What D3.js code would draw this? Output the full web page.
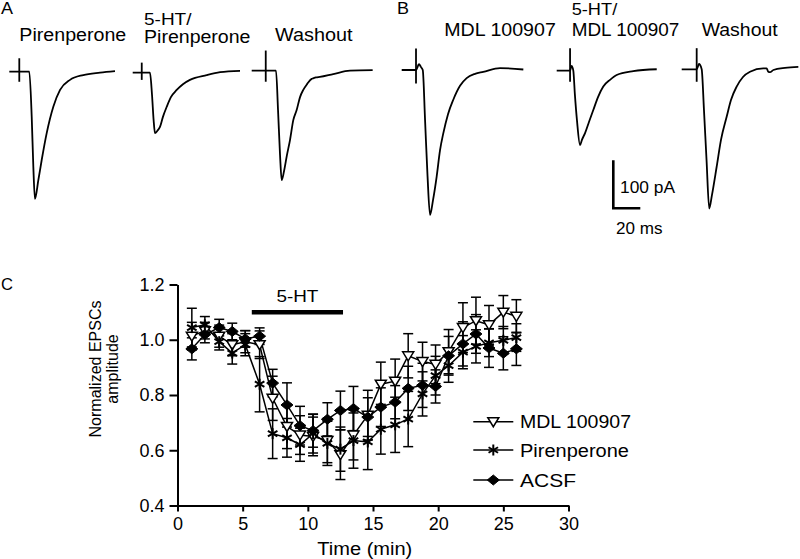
<!DOCTYPE html>
<html><head><meta charset="utf-8">
<script src="https://cdn.jsdelivr.net/npm/d3@7"></script>
<style>
body{margin:0;background:#fff}
svg{display:block}
text{font-family:"Liberation Sans",Arial,Helvetica,sans-serif;fill:#000}
</style>
</head><body>
<svg id="chart" width="800" height="559"></svg>
<script>
// ---------------- DATA (panel C) ----------------
const times = [1.1, 2.1, 3.2, 4.2, 5.2, 6.3, 7.3, 8.4, 9.4, 10.4, 11.5, 12.5, 13.5, 14.6, 15.6, 16.7, 17.7, 18.8, 19.8, 20.8, 21.9, 22.9, 23.9, 25.0, 26.0];
const mdlValues  = [1.013, 1.033, 1.013, 0.982, 0.993, 0.982, 0.788, 0.686, 0.655, 0.650, 0.635, 0.584, 0.655, 0.727, 0.839, 0.850, 0.942, 0.921, 0.911, 0.957, 1.044, 1.069, 1.054, 1.100, 1.085];
const mdlErr     = [0.05, 0.03, 0.04, 0.04, 0.04, 0.05, 0.08, 0.08, 0.07, 0.07, 0.08, 0.09, 0.09, 0.09, 0.08, 0.08, 0.08, 0.07, 0.07, 0.08, 0.09, 0.085, 0.07, 0.06, 0.06];
const pirValues  = [1.044, 1.054, 0.993, 0.952, 0.982, 0.839, 0.660, 0.645, 0.620, 0.660, 0.625, 0.604, 0.635, 0.630, 0.676, 0.692, 0.713, 0.804, 0.870, 0.906, 0.955, 0.976, 0.989, 0.998, 1.008];
const pirErr     = [0.07, 0.03, 0.03, 0.04, 0.04, 0.10, 0.09, 0.07, 0.06, 0.07, 0.08, 0.08, 0.10, 0.10, 0.09, 0.10, 0.10, 0.08, 0.07, 0.06, 0.06, 0.06, 0.05, 0.05, 0.05];
const acsfValues = [0.967, 1.019, 1.044, 1.030, 1.003, 1.013, 0.843, 0.764, 0.689, 0.671, 0.712, 0.744, 0.751, 0.720, 0.756, 0.774, 0.824, 0.835, 0.831, 0.942, 0.985, 1.021, 0.970, 0.951, 0.967];
const acsfErr    = [0.04, 0.03, 0.03, 0.03, 0.03, 0.03, 0.05, 0.08, 0.07, 0.06, 0.06, 0.07, 0.08, 0.07, 0.07, 0.06, 0.08, 0.08, 0.06, 0.07, 0.08, 0.07, 0.07, 0.06, 0.06];
const seriesNames = ["MDL 100907", "Pirenperone", "ACSF"];
const xTickValues = [0, 5, 10, 15, 20, 25, 30];
const yTickValues = [0.4, 0.6, 0.8, 1.0, 1.2];
const drugPeriod = [5.7, 12.7];
const drugLevel = 1.1;
const drugLabel = "5-HT";

// ---------------- DATA (panels A, B: EPSC traces, [ms, pA]) ----------------
const traceA1 = [[0,0],[14.8,0],[16.6,-94],[17.8,-198],[19.0,-265],[21.5,-226],[24.0,-184],[27.7,-128],[32.6,-73],[37.6,-38],[45.0,-17],[54.8,-7],[67.2,-2],[78.3,1]];
const traceA2 = [[0,0],[12.8,0],[14.3,-46],[15.5,-99],[16.5,-126],[18.3,-121],[20.2,-113],[22.4,-92],[25.2,-71],[28.3,-51],[32.6,-36],[37.2,-24],[42.4,-15],[54.8,-5],[64.7,1],[79.5,4]];
const traceA3 = [[0,0],[18.0,0],[19.5,-82],[21.0,-176],[22.2,-228],[23.9,-210],[26.1,-176],[28.4,-144],[30.8,-103],[33.3,-82],[35.8,-55],[38.2,-40],[41.0,-28],[44.4,-17],[45.4,-16],[47.6,-14],[50.5,-13],[60.4,-7],[72.8,0],[89.6,1]];
const traceB1 = [[0,0],[10.6,0],[12.8,12],[14.3,6],[15.6,0],[17.3,-104],[19.1,-219],[21.0,-302],[23.2,-271],[25.9,-222],[28.4,-167],[30.8,-132],[34.3,-92],[38.2,-62],[43.2,-33],[48.1,-17],[54.3,-8],[60.4,-4],[72.8,4],[90.1,1]];
const traceB2 = [[0,0],[9.9,0],[11.0,10],[12.3,0],[13.5,-51],[15.0,-103],[17.3,-155],[18.7,-144],[21.0,-130],[23.9,-107],[27.1,-82],[30.6,-55],[34.5,-33],[39.5,-19],[44.4,-9],[56.7,-1],[74.1,3]];
const traceB3 = [[0,0],[11.1,0],[12.8,11],[14.8,0],[16.5,-85],[18.4,-189],[20.4,-290],[22.4,-262],[25.9,-203],[29.1,-147],[33.3,-99],[36.5,-64],[40.7,-36],[45.4,-16],[50.6,-5],[60.4,2],[62.9,2],[64.1,-5],[65.4,-6],[67.9,-1.5],[76.5,3],[86.4,5]];
// stimulus artifacts: [ms, top pA, bottom pA]
const artifactA1 = [7.4, 28, -21];
const artifactA2 = [6.7, 21, -15];
const artifactA3 = [10.4, 42, -23];
const artifactB1 = [10.6, 45, -28];
const artifactB2 = [9.9, 47, -23];
const artifactB3 = [11.1, 44, -26];
const scaleBarCurrent = 100; // pA
const scaleBarTime = 20;     // ms

// ---------------- DRAW ----------------
const svg = d3.select("#chart");

// ---- trace panels ----
const tx = d3.scaleLinear().domain([0, 20]).range([0, 27]);
const ty = d3.scaleLinear().domain([0, 100]).range([0, -48]);
const traceLayout = [
  {data: traceA1, art: artifactA1, x0: 9.3,   base: 71.7},
  {data: traceA2, art: artifactA2, x0: 132.7, base: 72.7},
  {data: traceA3, art: artifactA3, x0: 251.7, base: 70.7},
  {data: traceB1, art: artifactB1, x0: 401.7, base: 70.0},
  {data: traceB2, art: artifactB2, x0: 556.7, base: 70.7},
  {data: traceB3, art: artifactB3, x0: 681.7, base: 69.3}
];
const traceLine = d3.line().x(d => tx(d[0])).y(d => ty(d[1])).curve(d3.curveMonotoneX);
traceLayout.forEach(tr => {
  const g = svg.append("g").attr("transform", `translate(${tr.x0},${tr.base})`);
  g.append("path").attr("d", traceLine(tr.data))
    .attr("fill", "none").attr("stroke", "#000").attr("stroke-width", 1.8).attr("stroke-linejoin", "round");
  g.append("line")
    .attr("x1", tx(tr.art[0])).attr("x2", tx(tr.art[0]))
    .attr("y1", ty(tr.art[1])).attr("y2", ty(tr.art[2]))
    .attr("stroke", "#000").attr("stroke-width", 1.8);
});

// scale bar
const sb = svg.append("g").attr("transform", "translate(613.3,208.3)");
sb.append("path")
  .attr("d", `M0,${ty(scaleBarCurrent)} L0,0 L${tx(scaleBarTime)},0`)
  .attr("fill", "none").attr("stroke", "#000").attr("stroke-width", 2.6);

function label(txt, x, y, size, len, anchor) {
  const t = svg.append("text").attr("x", x).attr("y", y).attr("font-size", size).text(txt);
  if (len) t.attr("textLength", len).attr("lengthAdjust", "spacingAndGlyphs");
  if (anchor) t.attr("text-anchor", anchor);
  return t;
}
label("A", 1, 14, 17, 12);
label("Pirenperone", 19.3, 40.7, 17.5, 107);
label("5-HT/", 144, 24.5, 17, 47.5);
label("Pirenperone", 144, 42.7, 17.5, 106.5);
label("Washout", 275, 40.7, 17.5, 77.5);
label("B", 397, 14, 17, 12);
label("MDL 100907", 444.3, 35.5, 17.5, 111.5);
label("5-HT/", 571.7, 14.5, 17, 45.5);
label("MDL 100907", 571.7, 35.5, 17.5, 107.5);
label("Washout", 701.7, 35.5, 17.5, 76);
label(scaleBarCurrent + " pA", 620, 193.3, 17, 55);
label(scaleBarTime + " ms", 616, 233.5, 17, 46.5);

// ---- panel C ----
const x = d3.scaleLinear().domain([0, 30]).range([177.5, 568.5]);
const y = d3.scaleLinear().domain([0.4, 1.2]).range([505.5, 284.5]);

const xAxis = svg.append("g").attr("transform", `translate(0,${y(0.4)})`)
  .call(d3.axisBottom(x).tickValues(xTickValues).tickFormat(d3.format("d")).tickSize(6).tickSizeOuter(0).tickPadding(4));
const yAxis = svg.append("g").attr("transform", `translate(${x(0)},0)`)
  .call(d3.axisLeft(y).tickValues(yTickValues).tickFormat(d3.format(".1f")).tickSize(8).tickSizeOuter(0).tickPadding(5));
[xAxis, yAxis].forEach(a => {
  a.selectAll("path,line").attr("stroke", "#000").attr("stroke-width", 2);
  a.selectAll("text").attr("font-size", 18).attr("fill", "#000")
    .style("font-family", '"Liberation Sans",Arial,sans-serif');
});
xAxis.selectAll("text").attr("dy", "0.78em");

label("C", 1, 290, 17, 12);
label("Time (min)", 317.3, 555, 18, 95);
svg.append("text").attr("transform", "translate(101,369) rotate(-90)")
  .attr("text-anchor", "middle").attr("font-size", 16).text("Normalized EPSCs");
svg.append("text").attr("transform", "translate(118,369) rotate(-90)")
  .attr("text-anchor", "middle").attr("font-size", 16).text("amplitude");

// drug bar
svg.append("line").attr("x1", x(drugPeriod[0])).attr("x2", x(drugPeriod[1]))
  .attr("y1", y(drugLevel)).attr("y2", y(drugLevel))
  .attr("stroke", "#000").attr("stroke-width", 4.5);
label(drugLabel, (x(drugPeriod[0]) + x(drugPeriod[1])) / 2, 302.3, 17, 42, "middle");

// markers
function drawMarker(g, kind, cx, cy) {
  if (kind === 0) {
    g.append("path").attr("d", `M${cx-5.5},${cy-4} L${cx+5.5},${cy-4} L${cx},${cy+5} Z`)
      .attr("fill", "#fff").attr("stroke", "#000").attr("stroke-width", 1.5);
  } else if (kind === 1) {
    const r = 5.5;
    [90, 30, 150].forEach(a => {
      const rad = a * Math.PI / 180;
      g.append("line").attr("x1", cx - r * Math.cos(rad)).attr("y1", cy - r * Math.sin(rad))
        .attr("x2", cx + r * Math.cos(rad)).attr("y2", cy + r * Math.sin(rad))
        .attr("stroke", "#000").attr("stroke-width", 2);
    });
  } else {
    g.append("path").attr("d", `M${cx-6},${cy} L${cx},${cy-5} L${cx+6},${cy} L${cx},${cy+5} Z`)
      .attr("fill", "#000").attr("stroke", "#000").attr("stroke-width", 1);
  }
}

const seriesVals = [mdlValues, pirValues, acsfValues];
const seriesErrs = [mdlErr, pirErr, acsfErr];
const line = d3.line().x(d => x(d.t)).y(d => y(d.v));
const seriesData = seriesVals.map((vals, s) => vals.map((v, i) => ({t: times[i], v: v, e: seriesErrs[s][i]})));

// error bars
seriesData.forEach(data => {
  const g = svg.append("g").attr("stroke", "#000").attr("stroke-width", 1.5);
  data.forEach(d => {
    const cx = x(d.t);
    g.append("line").attr("x1", cx).attr("x2", cx).attr("y1", y(d.v + d.e)).attr("y2", y(d.v - d.e));
    g.append("line").attr("x1", cx - 5).attr("x2", cx + 5).attr("y1", y(d.v + d.e)).attr("y2", y(d.v + d.e));
    g.append("line").attr("x1", cx - 5).attr("x2", cx + 5).attr("y1", y(d.v - d.e)).attr("y2", y(d.v - d.e));
  });
});
// lines
seriesData.forEach(data => {
  svg.append("path").attr("d", line(data)).attr("fill", "none")
    .attr("stroke", "#000").attr("stroke-width", 1.5);
});
// markers
seriesData.forEach((data, s) => {
  const g = svg.append("g");
  data.forEach(d => drawMarker(g, s, x(d.t), y(d.v)));
});

// legend
const legendY = [421.7, 450, 480];
const legendLens = [111, 109, 56];
seriesNames.forEach((name, s) => {
  const g = svg.append("g");
  g.append("line").attr("x1", 473.3).attr("x2", 513.3).attr("y1", legendY[s]).attr("y2", legendY[s])
    .attr("stroke", "#000").attr("stroke-width", 1.5);
  drawMarker(g, s, 493.3, legendY[s]);
  label(name, 520, legendY[s] + 6.5, 17.5, legendLens[s]);
});
</script>
</body></html>
